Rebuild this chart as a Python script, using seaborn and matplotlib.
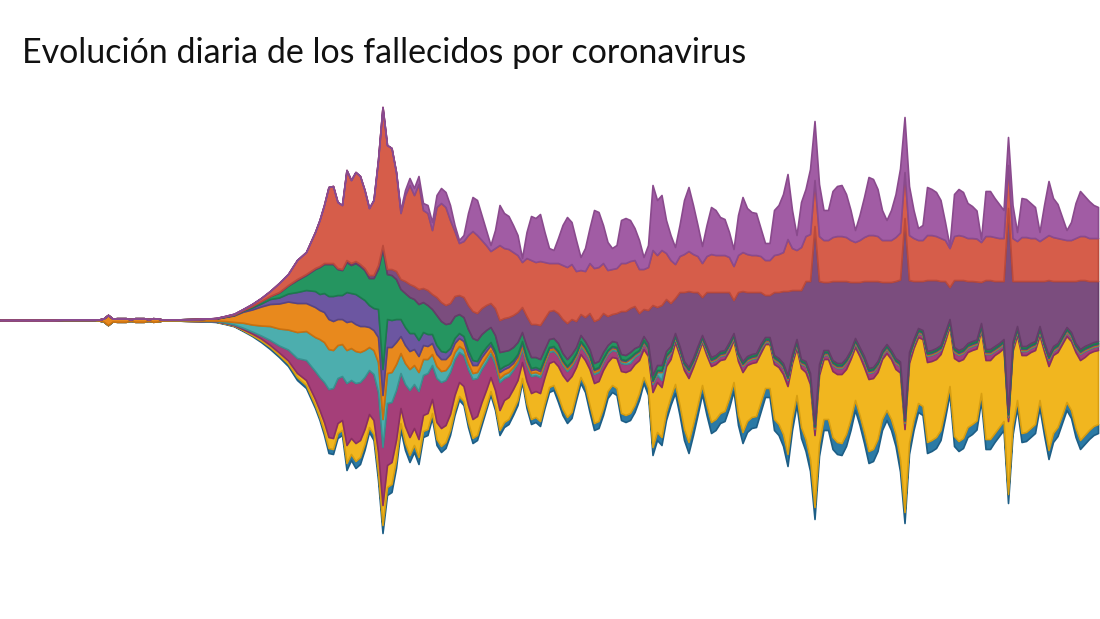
import matplotlib
matplotlib.use("Agg")
import matplotlib.pyplot as plt
import seaborn as sns

sns.set_theme(style="white")
plt.rcParams['font.family'] = ['Lato', 'DejaVu Sans']

titulo = "Evolución diaria de los fallecidos por coronavirus"

# days since the first record (x categories)
dias = [0, 12, 14, 18, 21, 22, 23, 24, 25, 26, 28, 29, 30, 32, 33, 34, 35, 36, 40, 44, 46,
        48, 50, 52, 54, 56, 58, 60, 62, 64, 66, 68, 70] + list(range(71, 245))

serie_azul = [0, 0, 0, 0, 0, 0, 0, 0, 0, 0, 0, 0, 0, 0, 0, 0, 0, 0, 0, 0, 0,
    .3, .5, .5, .8, 1, 1.5, 2, 2, 2.5, 3, 3, 3,
    3, 4, 5, 5, 5, 5, 7, 6, 7, 7,
    6, 5, 6, 8, 8, 8, 8, 8, 7, 7,
    7, 7, 7, 6, 6, 5, 6, 6, 6, 5,
    5, 4, 4, 5, 5, 5, 5, 4, 4, 4,
    5, 5, 5, 5, 5, 4, 5, 5, 5, 5,
    5, 5, 5, 6, 6, 6, 6, 6, 6, 6,
    7, 7, 7, 7, 7, 7, 7, 7, 7, 7,
    7, 7, 6, 7, 8, 8, 8, 8, 8, 9,
    10, 11, 11, 11, 10, 9, 10, 11, 11, 10,
    10, 10, 9, 10, 11, 11, 11, 11, 10, 9,
    9, 11, 11, 12, 12, 11, 10, 11, 12, 12,
    12, 12, 11, 11, 12, 12, 12, 12, 11, 10,
    10, 11, 12, 12, 12, 11, 10, 11, 12, 12,
    11, 11, 10, 9, 9, 11, 11, 11, 10, 9,
    8, 10, 10, 10, 10, 10, 9, 8, 10, 10,
    9, 9, 9, 9, 9, 8, 9, 9, 9, 9,
    8, 9, 9, 9, 9, 8, 8, 8, 9, 9,
    9, 9, 9, 9]

serie_amarilla = [0, 0, 0, 0, 0, 0, 0, 0, 0, 0, 0, 0, 0, 0, 0, 0, 0, 0, 0, 0, 0,
    .3, .5, .5, 1, 1.5, 2, 2, 2.5, 3, 4, 5, 6,
    7, 9, 11, 11, 10, 10, 18, 16, 18, 17,
    15, 13, 14, 20, 20, 22, 22, 20, 15, 17,
    18, 17, 18, 16, 16, 14, 17, 18, 17, 16,
    15, 14, 15, 17, 19, 19, 18, 16, 14, 16,
    20, 22, 22, 21, 20, 16, 22, 26, 26, 28,
    26, 24, 24, 30, 34, 36, 36, 27, 23, 26,
    36, 40, 40, 38, 29, 28, 30, 42, 43, 43,
    41, 33, 28, 32, 55, 50, 50, 46, 38, 42,
    50, 59, 64, 57, 50, 43, 50, 56, 55, 53,
    52, 47, 42, 54, 60, 56, 54, 54, 49, 44,
    44, 55, 57, 60, 68, 56, 47, 59, 67, 75,
    72, 69, 60, 60, 66, 68, 69, 65, 60, 53,
    59, 65, 72, 71, 67, 60, 57, 60, 65, 87,
    83, 80, 72, 66, 67, 80, 79, 78, 76, 68,
    60, 78, 80, 79, 75, 74, 72, 63, 79, 79,
    78, 75, 73, 73, 75, 65, 78, 77, 76, 74,
    65, 75, 84, 78, 75, 71, 66, 69, 76, 80,
    78, 77, 75, 74]

serie_magenta = [0, 0, 0, 0, 0, 0, 0, 0, 0, 0, 0, 0, 0, 0, 0, 0, 0, 0, 0, 0, 0,
    .3, .5, .8, 1.5, 2, 3, 5, 7, 11, 15, 20, 28,
    33, 40, 48, 50, 45, 44, 62, 58, 60, 58,
    52, 44, 46, 60, 58, 62, 60, 50, 35, 42,
    47, 44, 48, 40, 40, 34, 44, 46, 45, 42,
    36, 30, 31, 36, 40, 38, 33, 28, 23, 26,
    28, 22, 21, 19, 17, 13, 16, 17, 16, 16,
    13, 11, 10, 10, 10, 10, 10, 9, 8, 8,
    9, 9, 9, 8, 8, 7, 7, 8, 8, 7,
    7, 6, 6, 6, 8, 7, 7, 6, 6, 4,
    4, 4, 6, 4, 4, 2, 4, 4, 4, 4,
    4, 4, 2, 4, 6, 4, 4, 4, 4, 2,
    2, 4, 4, 6, 6, 4, 4, 4, 6, 6,
    6, 6, 4, 4, 6, 6, 6, 6, 4, 4,
    4, 6, 6, 6, 6, 4, 4, 4, 6, 6,
    6, 6, 4, 4, 4, 6, 6, 6, 4, 4,
    2, 6, 6, 6, 4, 4, 4, 2, 6, 6,
    4, 4, 4, 4, 4, 4, 4, 4, 4, 4,
    4, 4, 6, 4, 4, 4, 4, 4, 4, 6,
    6, 4, 4, 4]

serie_turquesa = [0, 0, 0, 0, 0, 0, 0, 0, 0, 0, 0, 0, 0, 0, 0, 0, 0, 0, .3, .5, .8,
    .5, 1.5, 2.5, 5, 7, 10, 14, 17, 20, 26, 29, 34,
    38, 40, 40, 38, 33, 32, 33, 32, 32, 30,
    27, 23, 24, 30, 28, 30, 30, 26, 20, 21,
    21, 19, 19, 16, 14, 11, 12, 11, 10, 8,
    7, 6, 6, 6, 6, 6, 5, 5, 4, 4,
    4, 4, 4, 3, 3, 3, 3, 3, 3, 3,
    2, 2, 2, 2, 2, 2, 2, 2, 2, 2,
    2, 2, 2, 2, 2, 2, 2, 2, 2, 4,
    2, 2, 1, 1, 2, 3, 8, 3, 1, 1,
    1, 1, 1, 1, 1, 1, 1, 1, 1, 1,
    1, 1, 1, 1, 1, 1, 1, 1, 1, 1,
    1, 1, 1, 1, 1, 1, 1, 1, 1, 1,
    1, 1, 1, 1, 1, 1, 1, 1, 1, 1,
    1, 1, 1, 1, 1, 1, 1, 1, 1, 1,
    1, 1, 1, 1, 1, 1, 1, 1, 1, 1,
    1, 1, 1, 1, 1, 1, 1, 1, 1, 1,
    1, 1, 1, 1, 1, 1, 1, 1, 1, 1,
    1, 1, 1, 1, 1, 1, 1, 1, 1, 1,
    1, 1, 1, 1]

serie_naranja = [0, 0, .5, .5, .5, 1, 3, 10, 3, 3.5, 3.5, 1.5, 3.5, 3.5, 1.5, 3.5, 3, 1, 1, 1.5, 2,
    2, 4, 6.5, 11, 15, 19, 22, 25, 28, 29, 28, 30,
    29, 30, 30, 29, 26, 25, 28, 27, 27, 26,
    24, 20, 20, 25, 24, 26, 25, 22, 17, 18,
    18, 16, 16, 14, 13, 11, 12, 12, 11, 10,
    9, 8, 8, 8, 8, 7, 7, 6, 5, 6,
    6, 5, 5, 4, 4, 3, 3, 3, 3, 3,
    3, 2, 2, 2, 2, 2, 2, 2, 2, 2,
    2, 2, 2, 1, 1, 1, 1, 1, 1, 1,
    1, 1, 1, 1, 1, 1, 1, 1, 1, 1,
    1, 1, 1, 1, 1, 1, 1, 1, 1, 1,
    1, 1, 1, 1, 1, 1, 1, 1, 1, 1,
    1, 1, 1, 1, 1, 1, 1, 1, 1, 1,
    1, 1, 1, 1, 1, 1, 1, 1, 1, 1,
    1, 1, 1, 1, 1, 1, 1, 1, 1, 1,
    1, 1, 1, 1, 1, 1, 1, 1, 1, 1,
    1, 1, 1, 1, 1, 1, 1, 1, 1, 1,
    1, 1, 1, 1, 1, 1, 1, 1, 1, 1,
    1, 1, 1, 1, 1, 1, 1, 1, 1, 1,
    1, 1, 1, 1]

serie_morada = [0, 0, 0, 0, 0, 0, 0, 0, 0, 0, 0, 0, 0, 0, 0, 0, 0, 0, 0, 0, 0,
    .2, .3, .5, 1, 2, 3, 5, 6, 8, 11, 13, 16,
    16, 19, 23, 25, 24, 24, 30, 28, 30, 29,
    26, 22, 22, 28, 26, 28, 27, 23, 17, 18,
    18, 16, 16, 13, 12, 9, 9, 8, 7, 6,
    5, 5, 5, 5, 5, 4, 4, 4, 3, 3,
    3, 3, 3, 3, 2, 2, 2, 2, 2, 2,
    1, 1, 1, 1, 1, 1, 1, 1, 1, 1,
    1, 1, 1, 1, 1, 1, 1, 1, 1, 1,
    1, 1, 1, 1, 1, 1, 1, 1, 1, 1,
    1, 1, 1, 1, 1, 1, 1, 1, 1, 1,
    1, 1, 1, 1, 1, 1, 1, 1, 1, 1,
    1, 1, 1, 1, 1, 1, 1, 1, 1, 1,
    1, 1, 1, 1, 1, 1, 1, 1, 1, 1,
    1, 1, 1, 1, 1, 1, 1, 1, 1, 1,
    1, 1, 1, 1, 1, 1, 1, 1, 1, 1,
    1, 1, 1, 1, 1, 1, 1, 1, 1, 1,
    1, 1, 1, 1, 1, 1, 1, 1, 1, 1,
    1, 1, 1, 1, 1, 1, 1, 1, 1, 1,
    1, 1, 1, 1]

serie_verde = [0, 0, 0, 0, 0, 0, 0, 0, 0, 0, 0, 0, 0, 0, 0, 0, 0, 0, 0, 0, 0,
    .2, .3, .4, .7, 1.5, 2.5, 3, 5, 8, 12, 15, 22,
    27, 29, 32, 32, 26, 25, 30, 28, 31, 31,
    30, 27, 30, 40, 120, 45, 45, 40, 30, 34,
    36, 34, 36, 30, 29, 25, 30, 30, 28, 25,
    22, 19, 19, 21, 22, 21, 19, 17, 15, 16,
    17, 15, 14, 13, 12, 9, 11, 11, 10, 10,
    9, 8, 8, 8, 7, 7, 7, 6, 6, 6,
    6, 6, 6, 6, 5, 5, 5, 5, 5, 5,
    5, 4, 4, 4, 5, 5, 5, 4, 4, 2,
    2, 2, 2, 2, 2, 2, 2, 2, 2, 2,
    2, 2, 2, 2, 2, 2, 2, 2, 2, 2,
    2, 2, 2, 2, 2, 2, 2, 2, 2, 2,
    2, 2, 2, 2, 2, 2, 2, 2, 2, 2,
    2, 2, 2, 2, 2, 2, 2, 2, 2, 2,
    2, 2, 2, 2, 2, 2, 2, 2, 2, 2,
    2, 2, 2, 2, 2, 2, 2, 2, 2, 2,
    2, 2, 2, 2, 2, 2, 2, 2, 2, 2,
    2, 2, 2, 2, 2, 2, 2, 2, 2, 2,
    2, 2, 2, 2]

serie_ciruela = [0, 0, 0, 0, 0, 0, 0, 0, 0, 0, 0, 0, 0, 0, 0, 0, 0, 0, 0, 0, 0,
    0, 0, 0, 0, 0, 0, 0, .5, .5, 1, 1, 1,
    1, 1, 1, 1, 1, 1, 2, 2, 2, 2,
    2, 3, 3, 4, 4, 5, 6, 8, 10, 12,
    13, 13, 15, 14, 15, 15, 18, 19, 19, 20,
    20, 19, 20, 24, 27, 27, 26, 25, 24, 27,
    32, 33, 33, 32, 30, 25, 30, 33, 33, 34,
    31, 28, 28, 30, 34, 36, 35, 26, 21, 24,
    36, 42, 42, 39, 29, 27, 29, 43, 44, 44,
    42, 33, 27, 33, 70, 58, 60, 52, 43, 35,
    54, 69, 76, 66, 54, 38, 54, 65, 63, 59,
    58, 50, 33, 60, 70, 64, 62, 61, 52, 42,
    42, 63, 66, 72, 84, 64, 49, 69, 80, 92,
    198, 83, 68, 68, 79, 82, 82, 77, 68, 56,
    65, 75, 87, 86, 80, 68, 62, 68, 77, 82,
    200, 72, 58, 47, 49, 71, 70, 68, 64, 51,
    32, 67, 70, 68, 62, 60, 58, 41, 69, 69,
    65, 62, 58, 204, 61, 45, 65, 65, 62, 60,
    45, 61, 75, 65, 62, 54, 46, 51, 62, 69,
    66, 63, 61, 60]

serie_roja = [0, 0, 0, 0, 0, 0, 0, 0, 0, 0, 0, 0, 0, 0, 0, 0, 0, 0, 0, 0, 0,
    .2, .4, .8, 1, 2, 3, 5, 9, 11, 19, 22, 36,
    46, 58, 76, 77, 66, 64, 90, 83, 89, 88,
    78, 67, 75, 105, 138, 124, 121, 99, 66, 86,
    99, 91, 105, 78, 77, 64, 90, 99, 98, 83,
    65, 52, 56, 70, 80, 78, 68, 60, 52, 60,
    75, 70, 68, 63, 57, 45, 58, 64, 62, 64,
    56, 48, 47, 50, 54, 56, 55, 50, 44, 46,
    50, 53, 52, 50, 46, 45, 45, 48, 48, 47,
    46, 44, 40, 43, 55, 52, 55, 46, 43, 34,
    36, 38, 40, 38, 36, 34, 36, 38, 37, 37,
    37, 35, 34, 37, 39, 38, 37, 37, 36, 35,
    35, 37, 38, 39, 52, 42, 40, 43, 45, 47,
    46, 45, 42, 42, 44, 45, 45, 44, 42, 40,
    42, 44, 46, 46, 45, 42, 42, 42, 44, 47,
    46, 45, 43, 41, 41, 45, 45, 44, 43, 41,
    39, 44, 45, 44, 43, 43, 43, 40, 44, 44,
    44, 43, 43, 43, 43, 40, 44, 44, 43, 43,
    40, 43, 45, 44, 43, 42, 41, 41, 43, 44,
    44, 43, 43, 43]

serie_lila = [0, 0, 0, 0, 0, 0, 0, 0, 0, 0, 0, 0, 0, 0, 0, 0, 0, 0, 0, 0, 0,
    0, 0, 0, 0, 0, 0, 0, 0, 0, 0, 0, 0,
    0, 0, 0, 0, 0, 0, 0, 0, 0, 0,
    0, 0, 0, 0, 0, 0, 0, 0, 3, 5,
    7, 7, 8, 7, 8, 8, 12, 15, 15, 15,
    6, 3, 6, 22, 34, 35, 25, 15, 6, 18,
    40, 35, 33, 27, 20, 4, 26, 44, 44, 47,
    30, 15, 13, 25, 40, 50, 42, 31, 13, 23,
    35, 58, 55, 38, 28, 21, 23, 43, 45, 41,
    32, 29, 12, 22, 65, 55, 55, 33, 25, 17,
    31, 54, 64, 49, 31, 17, 31, 47, 45, 38,
    36, 25, 17, 40, 55, 46, 43, 42, 28, 17,
    17, 45, 49, 58, 65, 38, 15, 45, 47, 65,
    59, 52, 30, 30, 46, 50, 51, 43, 30, 12,
    25, 40, 58, 56, 47, 30, 20, 30, 43, 64,
    55, 49, 28, 12, 15, 48, 46, 44, 38, 18,
    2, 42, 46, 44, 35, 32, 28, 3, 45, 45,
    39, 34, 28, 28, 33, 9, 39, 38, 35, 31,
    9, 33, 54, 39, 34, 22, 10, 18, 35, 45,
    40, 37, 33, 31]

series = [serie_azul, serie_amarilla, serie_magenta, serie_turquesa, serie_naranja,
          serie_morada, serie_verde, serie_ciruela, serie_roja, serie_lila]
colores = ['#2b7aa5', '#f1b61f', '#a53f79', '#4caeae', '#e8891d',
           '#6c56a1', '#259560', '#7b4d7e', '#d65d4a', '#a15ca4']
bordes = ['#1d5e86', '#d89e10', '#8a2f63', '#3a9090', '#c9700f',
          '#584485', '#1c7a4d', '#663c69', '#bb4a3b', '#8a4a8d']

fig = plt.figure(figsize=(11, 6.19), dpi=100)
fig.patch.set_facecolor('white')
ax = fig.add_axes([0, 0, 1, 1])
polys = ax.stackplot(dias, *series, baseline='sym', colors=colores)
for p, ec in zip(polys, bordes):
    p.set_edgecolor(ec)
    p.set_linewidth(1.2)
    p.set_joinstyle('round')

ax.set_xlim(0, 244.44)
ax.set_ylim(-299, 320)
ax.axis('off')

fig.text(22 / 1100, 1 - 63 / 619, titulo, fontsize=24.5, color='#111111',
         ha='left', va='baseline')

fig.savefig('out.png', dpi=100, facecolor='white')
